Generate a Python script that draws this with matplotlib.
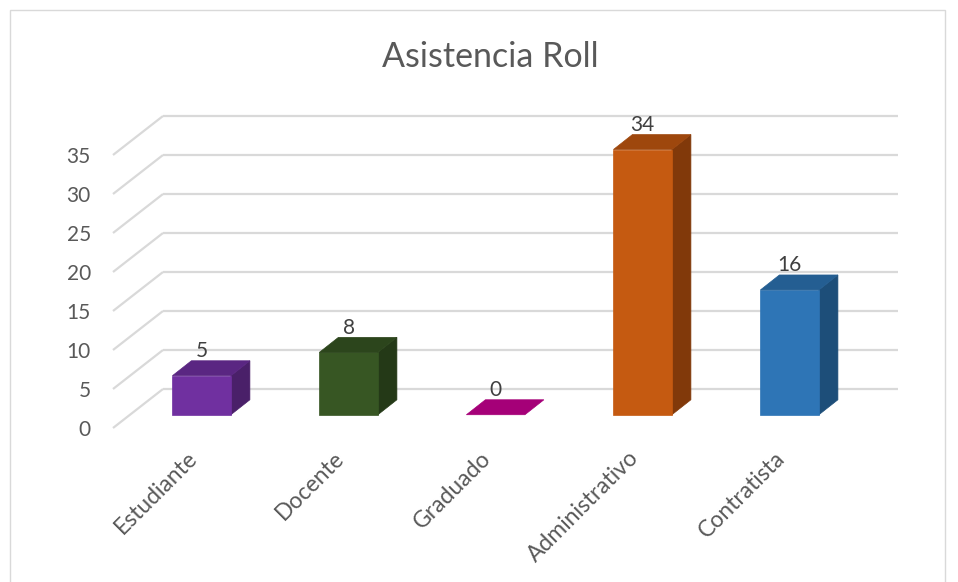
""" Asistencia Roll: fake 3D column chart """

import matplotlib
matplotlib.use('Agg')
from matplotlib import pyplot as plt
from matplotlib.patches import Polygon, Rectangle

CATEGORIES = ['Estudiante', 'Docente', 'Graduado', 'Administrativo', 'Contratista']
VALUES = [5, 8, 0, 34, 16]
TICKS = [0, 5, 10, 15, 20, 25, 30, 35]
FRONT_COLORS = ['#7030A0', '#375623', '#A50078', '#C55A11', '#2E75B6']
SIDE_COLORS = ['#4A2069', '#243917', '#6E0050', '#81390A', '#1D4E79']
TOP_COLORS = ['#5A2682', '#2C451C', '#A50078', '#9E470D', '#245E92']

TEXT_COLOR = '#595959'
GRID_COLOR = '#D9D9D9'
W, H = 958, 582

# depth of the floor and of a bar, in data units
FLOOR_DX, FLOOR_DY = 50 / 147, 5
BAR_DX, BAR_DY = 19 / 147, 1.92
BAR_X0, BAR_Y0 = 0.103, 1.7
BAR_W = 58.5 / 147

plt.rcParams['font.family'] = ['Lato', 'DejaVu Sans']
fig = plt.figure(figsize=(W / 100, H / 100), dpi=100)
fig.add_artist(Rectangle((10 / W, -0.01), 935 / W, 1 - 10 / H + 0.01, fill=False,
                         edgecolor='#D9D9D9', linewidth=1, transform=fig.transFigure))

ax = fig.add_axes([113 / W, 1 - 428 / H, 785 / W, 312 / H])
ax.set_xlim(-0.5, 4.84)
ax.set_ylim(0, 40)
for spine in ax.spines.values():
    spine.set_visible(False)

# wall lines and the slanted floor/side lines
for t in TICKS:
    ax.plot([-0.5 + FLOOR_DX, 4.84], [t + FLOOR_DY] * 2, color=GRID_COLOR, lw=1.6,
            solid_capstyle='butt', zorder=1, clip_on=False)
    ax.plot([-0.5, -0.5 + FLOOR_DX], [t, t + FLOOR_DY], color=GRID_COLOR, lw=1.6,
            solid_capstyle='butt', zorder=1, clip_on=False)

for i, v in enumerate(VALUES):
    x0 = i - BAR_W / 2 + BAR_X0
    x1 = x0 + BAR_W
    y0 = BAR_Y0
    y1 = y0 + v
    if v > 0:
        ax.add_patch(Polygon([(x1, y0), (x1 + BAR_DX, y0 + BAR_DY),
                              (x1 + BAR_DX, y1 + BAR_DY), (x1, y1)],
                             facecolor=SIDE_COLORS[i], edgecolor=SIDE_COLORS[i], lw=0.5, zorder=3))
        ax.bar(x0, v, BAR_W, bottom=y0, align='edge', color=FRONT_COLORS[i],
               edgecolor=FRONT_COLORS[i], lw=0.5, zorder=3)
    ax.add_patch(Polygon([(x0, y1), (x1, y1), (x1 + BAR_DX, y1 + BAR_DY),
                          (x0 + BAR_DX, y1 + BAR_DY)],
                         facecolor=TOP_COLORS[i], edgecolor=TOP_COLORS[i], lw=0.5, zorder=3))
    ax.text(i + BAR_X0, y1 + BAR_DY + 0.45, str(v), ha='center', va='baseline', fontsize=15,
            color='#404040', zorder=4)

ax.set_yticks(TICKS)
ax.set_xticks(range(len(CATEGORIES)))
ax.set_xticklabels(CATEGORIES, rotation=45, ha='right', rotation_mode='anchor')
ax.tick_params(axis='both', length=0, labelsize=15, labelcolor=TEXT_COLOR)
ax.tick_params(axis='x', labelsize=16.5, pad=14)
ax.tick_params(axis='y', pad=16)

fig.text(490 / W, 1 - 57 / H, 'Asistencia Roll', ha='center', va='center', fontsize=24.5,
         color=TEXT_COLOR)

fig.savefig('out.png', dpi=100)
